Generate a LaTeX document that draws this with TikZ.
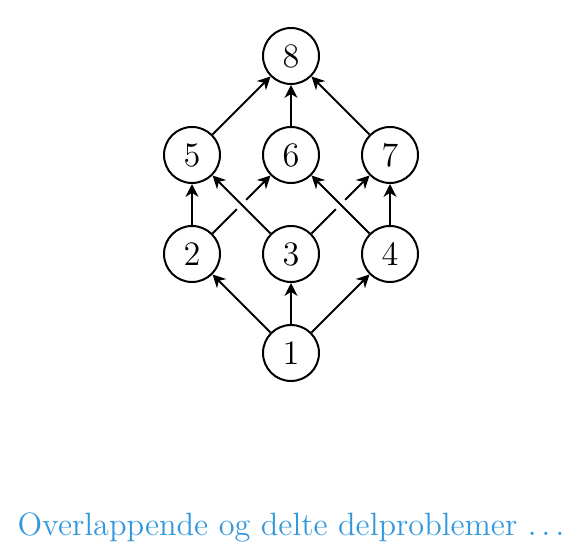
\documentclass[tikz,border=0pt]{standalone}
\usetikzlibrary{positioning, arrows.meta}
\definecolor{titleblue}{RGB}{52,152,219}
\begin{document}
\begin{tikzpicture}[x=0.35pt, y=0.35pt, node distance={34.65pt}, on grid, line width=0.7pt,
    >={Stealth[length=4.5pt, width=4.5pt, inset=1.4pt]},
    main/.style = {draw, circle, minimum size=19.6pt, inner sep=0pt, font=\fontsize{12.8}{15}\selectfont},
    over/.style = {preaction={draw=white, line width=4.5pt, -, shorten >=2pt, shorten <=2pt}}]
    \useasboundingbox (-291,-205) rectangle (290,353);
    \node[main] (1) {$1$};
    \node[main] (3) [above=of 1] {$3$};
    \node[main] (2) [left=of 3] {$2$};
    \node[main] (4) [right=of 3] {$4$};
    \node[main] (5) [above=of 2] {$5$};
    \node[main] (6) [above=of 3] {$6$};
    \node[main] (7) [above=of 4] {$7$};
    \node[main] (8) [above=of 6] {$8$};
    \node[text=titleblue, font=\fontsize{11.3}{13}\selectfont] (title) at (0,-174) {Overlappende og delte delproblemer $\ldots$};

    \draw[->] (1) -- (2);
    \draw[->] (1) -- (3);
    \draw[->] (1) -- (4);
    \draw[->] (2) -- (5);
    \draw[->] (2) -- (6);
    \draw[->] (3) -- (7);
    \draw[->] (4) -- (7);
    \draw[->, over] (3) -- (5);
    \draw[->, over] (4) -- (6);
    \draw[->] (5) -- (8);
    \draw[->] (6) -- (8);
    \draw[->] (7) -- (8);
\end{tikzpicture}
\end{document}
